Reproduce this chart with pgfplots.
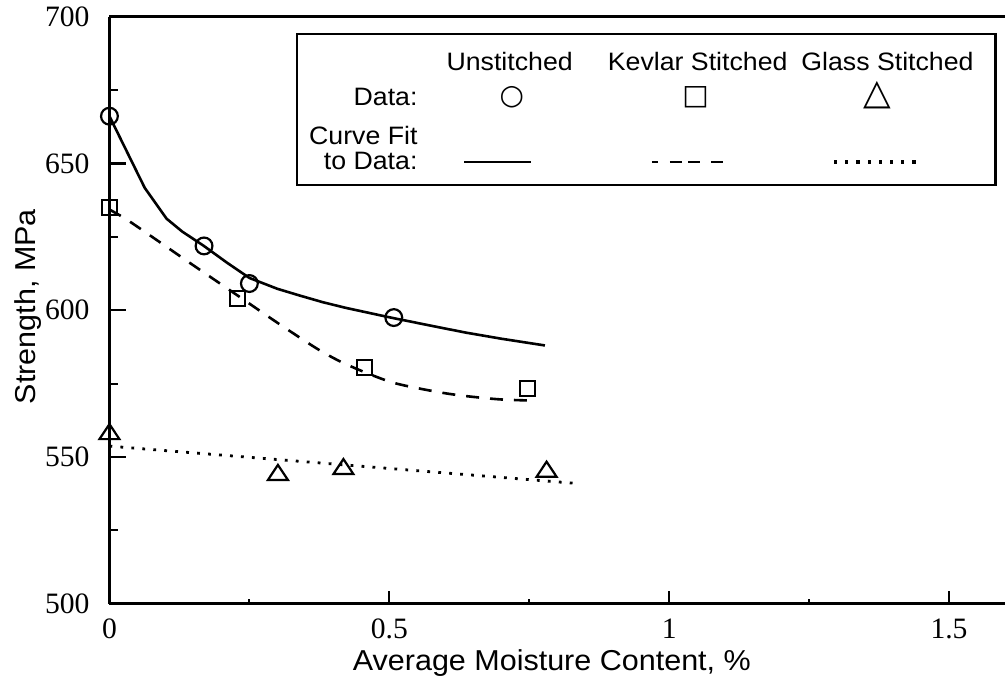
\documentclass[border=0pt]{standalone}
\usepackage{fontspec}
\setmainfont{Liberation Sans}[FakeStretch=1.06]
\newfontfamily\tickfont{Liberation Serif}
\newfontfamily\symfont{DejaVu Sans}
\usepackage{pgfplots}
\pgfplotsset{compat=1.18}
\begin{document}
\begin{tikzpicture}
\begin{axis}[
  scale only axis, width=448pt, height=293.7pt,
  xmin=0, xmax=1.6, ymin=500, ymax=700,
  axis x line*=box, axis y line*=left,
  tick pos=left, tick align=inside,
  xtick={0,0.5,1,1.5}, ytick={500,550,600,650,700},
  minor x tick num=1, minor y tick num=1,
  axis line style={line width=1.7pt},
  every tick/.style={black, line width=1.1pt},
  xtick style={/pgfplots/major tick length=6.5pt,/pgfplots/minor tick length=2.2pt},
  ytick style={/pgfplots/major tick length=8.5pt,/pgfplots/minor tick length=4.5pt},
  /pgf/number format/assume math mode=true,
  ticklabel style={font=\tickfont\fontsize{14.8}{15}\selectfont},
  xticklabel style={yshift=-4pt},
  yticklabel style={xshift=-6.5pt},
  xlabel={Average Moisture Content, \%},
  ylabel={Strength, MPa},
  label style={font=\fontsize{14.4}{16}\selectfont},
  xlabel style={at={(axis description cs:0.494,0)}, anchor=center, yshift=-29.5pt},
  ylabel style={at={(axis description cs:-0.0904,0.506)}, anchor=center},
  clip=false,
]
% curve fits
\addplot[black, line width=1.3pt] coordinates {
(0,666.1) (0.063,641.7) (0.102,631.2) (0.13,626.8) (0.168,622.0) (0.21,616.2)
(0.25,611.0) (0.30,607.3) (0.34,605.0) (0.38,602.8) (0.42,600.9) (0.50,597.6)
(0.57,594.9) (0.636,592.4) (0.70,590.3) (0.778,588.0)};
\addplot[black, line width=1.3pt, dash pattern=on 6.5pt off 5.5pt, smooth] coordinates {
(0,634.3) (0.03,631.0) (0.08,624.5) (0.143,616.2) (0.226,605.4) (0.298,596.0)
(0.37,587.0) (0.415,582.3) (0.465,578.2) (0.513,575.0) (0.585,572.2) (0.635,570.8)
(0.70,569.6) (0.765,569.2)};
\addplot[black, line width=1.4pt, dash pattern=on 1.4pt off 4.1pt] coordinates {
(0,553.7) (0.835,541.0)};
% data
\addplot[only marks, mark=o, mark size=4.2pt, mark options={black, line width=1.1pt}] coordinates {
(0,666.1) (0.169,621.9) (0.25,609.1) (0.508,597.5)};
\addplot[only marks, mark=square, mark size=3.8pt, mark options={black, line width=1.1pt}] coordinates {
(0,634.9) (0.229,604.0) (0.456,580.5) (0.747,573.4)};
\addplot[only marks, mark=triangle, mark size=5pt, mark options={black, line width=1.1pt, xscale=1.15}] coordinates {
(0,557.8) (0.301,543.9) (0.418,545.9) (0.781,545.0)};
% legend
\draw[line width=1.2pt] (axis cs:0.335,694.1) rectangle (axis cs:1.583,642.7);
\begin{scope}[every node/.style={font=\fontsize{12.6}{14}\selectfont, inner sep=0pt}]
\node at (axis cs:0.715,684.6) {Unstitched};
\node at (axis cs:1.051,684.6) {Kevlar Stitched};
\node at (axis cs:1.390,684.6) {Glass Stitched};
\node[anchor=east] at (axis cs:0.551,672.6) {Data:};
\node[anchor=east, align=right] at (axis cs:0.551,655.2) {Curve Fit\\[-1.5pt]to Data:};
\node[font=\symfont\fontsize{14}{14}\selectfont] at (axis cs:0.719,672.6) {○};
\node[font=\symfont\fontsize{14}{14}\selectfont] at (axis cs:1.047,672.6) {□};
\node[font=\symfont\fontsize{18}{18}\selectfont] at (axis cs:1.372,673.2) {△};
\node at (axis cs:0.6935,650.5) {\rule{33.5pt}{1.2pt}};
\node at (axis cs:1.0325,650.5) {\rule{3.3pt}{1.3pt}\hspace{5.8pt}\rule{5.8pt}{1.3pt}\hspace{3.3pt}\rule{5.8pt}{1.3pt}\hspace{5.8pt}\rule{5.8pt}{1.3pt}};
\node at (axis cs:1.3675,650.5) {\rule{1.6pt}{1.6pt}\hspace{4pt}\rule{1.6pt}{1.6pt}\hspace{4pt}\rule{1.6pt}{1.6pt}\hspace{4pt}\rule{1.6pt}{1.6pt}\hspace{4pt}\rule{1.6pt}{1.6pt}\hspace{4pt}\rule{1.6pt}{1.6pt}\hspace{4pt}\rule{1.6pt}{1.6pt}\hspace{4pt}\rule{1.6pt}{1.6pt}};
\end{scope}
\end{axis}
\pgfresetboundingbox
\path[use as bounding box] ([shift={(-54.75pt,-41.5pt)}]current axis.south west) rectangle ([shift={(0pt,8.35pt)}]current axis.north east);
\end{tikzpicture}
\end{document}
